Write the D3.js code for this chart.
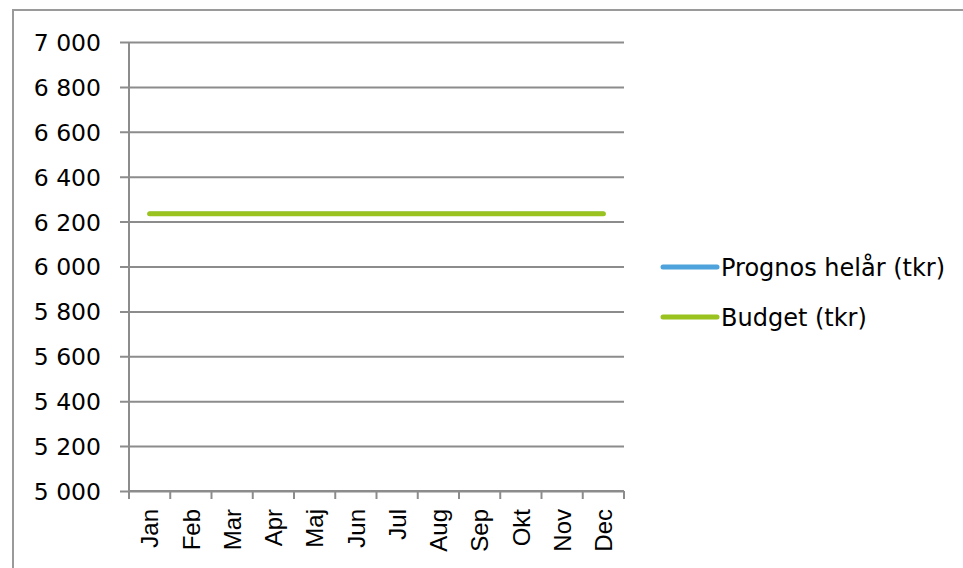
<!DOCTYPE html>
<html>
<head>
<meta charset="utf-8">
<script src="https://cdn.jsdelivr.net/npm/d3@7"></script>
<style>
  html, body { margin: 0; padding: 0; background: #fff; }
  svg { display: block; }
</style>
</head>
<body>
<svg id="chart" width="963" height="568"></svg>
<script>
// data
const months = ['Jan', 'Feb', 'Mar', 'Apr', 'Maj', 'Jun', 'Jul', 'Aug', 'Sep', 'Okt', 'Nov', 'Dec'];
const prognos = [6235, 6235, 6235, 6235, 6235, 6235, 6235, 6235, 6235, 6235, 6235, 6235];
const budget = [6235, 6235, 6235, 6235, 6235, 6235, 6235, 6235, 6235, 6235, 6235, 6235];
const yTicks = [5000, 5200, 5400, 5600, 5800, 6000, 6200, 6400, 6600, 6800, 7000];
const seriesNames = ['Prognos helår (tkr)', 'Budget (tkr)'];
const seriesColors = ['#4ea3dc', '#9ac31f'];

const svg = d3.select('#chart');
const gridColor = '#8c8c8c';

// outer frame (right and bottom edges fall outside the picture)
svg.append('rect')
    .attr('x', 13).attr('y', 10)
    .attr('width', 1000).attr('height', 600)
    .attr('fill', 'none')
    .attr('stroke', '#9a9a9a')
    .attr('stroke-width', 2);

const plot = {left: 129, right: 624, top: 42, bottom: 491};

const x = d3.scaleBand().domain(months).range([plot.left, plot.right]);
const y = d3.scaleLinear().domain([5000, 7000]).range([plot.bottom, plot.top]);

const fmt = (v) => d3.format(',')(v).replace(',', ' ');

// horizontal grid + y ticks
const yAxis = svg.append('g')
    .attr('transform', `translate(${plot.left},0)`)
    .call(d3.axisLeft(y).tickValues(yTicks).tickSize(9).tickFormat(fmt));
yAxis.select('.domain').remove();
yAxis.selectAll('.tick line')
    .attr('x2', plot.right - plot.left)
    .attr('x1', -9)
    .attr('stroke', gridColor)
    .attr('stroke-width', 2);
yAxis.selectAll('.tick text')
    .attr('x', -28)
    .attr('dy', '0.36em')
    .attr('fill', '#000')
    .style('font-family', '"DejaVu Sans", Verdana, sans-serif')
    .style('font-size', '23.5px');

// vertical axis line
svg.append('line')
    .attr('x1', plot.left).attr('x2', plot.left)
    .attr('y1', plot.top).attr('y2', plot.bottom)
    .attr('stroke', gridColor).attr('stroke-width', 2);

// x axis with ticks on band edges
const xAxis = svg.append('g')
    .attr('transform', `translate(0,${plot.bottom})`);
xAxis.append('line')
    .attr('x1', plot.left).attr('x2', plot.right)
    .attr('stroke', gridColor).attr('stroke-width', 2);
const edges = months.map((m) => x(m)).concat([plot.right]);
xAxis.selectAll('line.tk')
    .data(edges)
    .join('line')
    .attr('class', 'tk')
    .attr('x1', (d) => d).attr('x2', (d) => d)
    .attr('y1', 0).attr('y2', 8)
    .attr('stroke', gridColor).attr('stroke-width', 2);
xAxis.selectAll('text')
    .data(months)
    .join('text')
    .attr('transform', (d) => `translate(${x(d) + x.bandwidth() / 2},18) rotate(-90)`)
    .attr('text-anchor', 'end')
    .attr('dy', '0.36em')
    .attr('fill', '#000')
    .style('font-family', '"Liberation Sans", Arial, sans-serif')
    .style('font-size', '24px')
    .text((d) => d);

// series lines
const line = d3.line()
    .x((d, i) => x(months[i]) + x.bandwidth() / 2)
    .y((d) => y(d));

[prognos, budget].forEach((vals, i) => {
  svg.append('path')
      .datum(vals)
      .attr('d', line)
      .attr('fill', 'none')
      .attr('stroke', seriesColors[i])
      .attr('stroke-width', i === 0 ? 4 : 5)
      .attr('stroke-linecap', 'round');
});

// legend
const legend = svg.append('g')
    .selectAll('g')
    .data(seriesNames)
    .join('g')
    .attr('transform', (d, i) => `translate(663,${267 + i * 50})`);
legend.append('line')
    .attr('x1', 0).attr('x2', 54)
    .attr('stroke', (d, i) => seriesColors[i])
    .attr('stroke-width', 5)
    .attr('stroke-linecap', 'round');
legend.append('text')
    .attr('x', 58)
    .attr('dy', '0.36em')
    .attr('fill', '#000')
    .style('font-family', '"DejaVu Sans", Verdana, sans-serif')
    .style('font-size', '24px')
    .text((d) => d);
</script>
</body>
</html>
